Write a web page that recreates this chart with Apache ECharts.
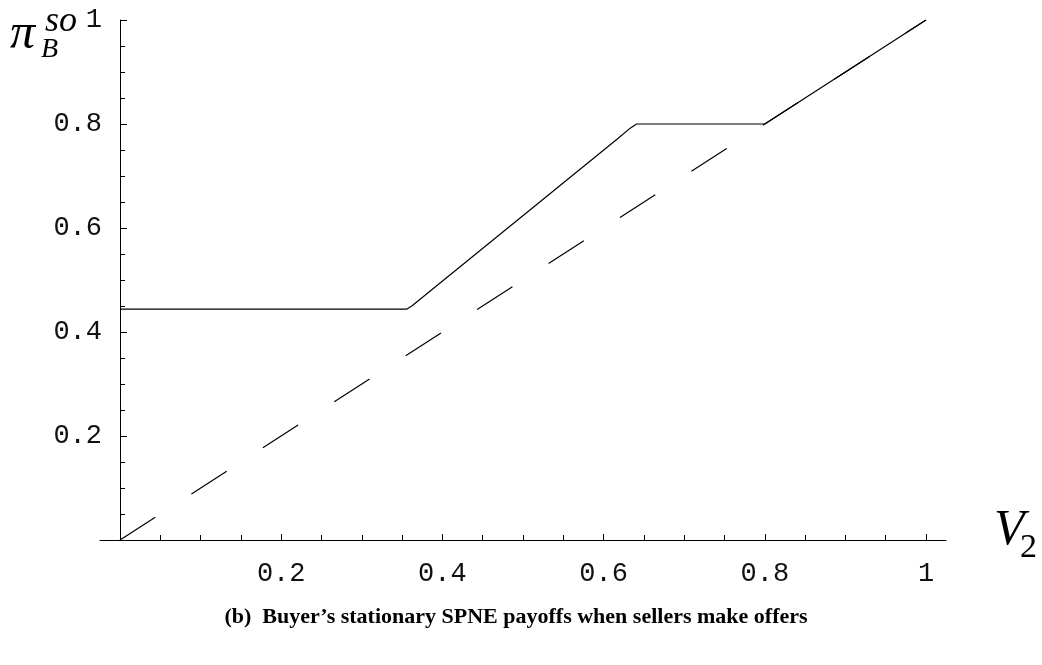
<!DOCTYPE html>
<html>
<head>
<meta charset="utf-8">
<script src="https://cdn.jsdelivr.net/npm/echarts@6/dist/echarts.min.js"></script>
<style>
html,body{margin:0;padding:0;background:#fff;}
#chart{width:1042px;height:665px;}
</style>
</head>
<body>
<div id="chart"></div>
<script>
// Data
const solidX = [0, 0.356, 0.362, 0.617, 0.633, 0.641, 0.8, 1];
const solidY = [0.444, 0.444, 0.45, 0.771, 0.792, 0.8, 0.8, 1];
const dashX = [0, 1];
const dashY = [0, 1];
const xTickLabels = ['0.2', '0.4', '0.6', '0.8', '1'];
const yTickLabels = ['0.2', '0.4', '0.6', '0.8', '1'];
const caption = '(b)  Buyer\u2019s stationary SPNE payoffs when sellers make offers';

const solidData = solidX.map((x, i) => [x, solidY[i]]);
const dashData = dashX.map((x, i) => [x, dashY[i]]);
const fmt = (labels) => (v) => {
  const s = (Math.round(v * 10) / 10).toString();
  return labels.indexOf(s) >= 0 ? s : '';
};
const labelFont = {fontFamily: '"Liberation Mono", "Courier New", monospace', fontSize: 27, color: '#111'};
const mathFont = '"Liberation Serif", "Times New Roman", serif';

const chart = echarts.init(document.getElementById('chart'));
chart.setOption({
  backgroundColor: '#fff',
  animation: false,
  grid: [
    {left: 120, right: 116, top: 20, bottom: 125},
    {left: 100, right: 96, top: 20, bottom: 125}
  ],
  xAxis: [
    {
      type: 'value', gridIndex: 0, min: 0, max: 1, interval: 0.2,
      axisLine: {show: false},
      axisTick: {show: true, inside: true, length: 6, lineStyle: {color: '#000', width: 1}},
      minorTick: {show: true, splitNumber: 4, length: 5, lineStyle: {color: '#000', width: 1}},
      splitLine: {show: false},
      axisLabel: Object.assign({margin: 20, showMinLabel: false, formatter: fmt(xTickLabels)}, labelFont)
    },
    {
      type: 'value', gridIndex: 1, min: 0, max: 1,
      axisLine: {show: true, onZero: false, lineStyle: {color: '#000', width: 1}},
      axisTick: {show: false}, axisLabel: {show: false}, splitLine: {show: false}
    }
  ],
  yAxis: [
    {
      type: 'value', gridIndex: 0, min: 0, max: 1, interval: 0.2,
      axisLine: {show: true, onZero: false, lineStyle: {color: '#000', width: 1}},
      axisTick: {show: true, inside: true, length: 7, lineStyle: {color: '#000', width: 1}},
      minorTick: {show: true, splitNumber: 4, length: 5, lineStyle: {color: '#000', width: 1}},
      splitLine: {show: false},
      axisLabel: Object.assign({margin: 18, showMinLabel: false, formatter: fmt(yTickLabels)}, labelFont)
    },
    {type: 'value', gridIndex: 1, min: 0, max: 1, show: false}
  ],
  series: [
    {
      type: 'line', xAxisIndex: 0, yAxisIndex: 0, data: dashData, symbol: 'none',
      lineStyle: {color: '#000', width: 1.2, type: [42, 43]}
    },
    {
      type: 'line', xAxisIndex: 0, yAxisIndex: 0, data: solidData, symbol: 'none',
      lineStyle: {color: '#000', width: 1.2}
    }
  ],
  graphic: [
    {type: 'text', style: {x: 10, y: 35, text: '\u03C0', font: 'italic 50px ' + mathFont, fill: '#000', verticalAlign: 'middle'}},
    {type: 'text', style: {x: 41, y: 50, text: 'B', font: 'italic 28px ' + mathFont, fill: '#000', verticalAlign: 'middle'}},
    {type: 'text', style: {x: 45, y: 22, text: 'so', font: 'italic 36px ' + mathFont, fill: '#000', verticalAlign: 'middle'}},
    {type: 'text', style: {x: 994, y: 531, text: 'V', font: 'italic 50px ' + mathFont, fill: '#000', verticalAlign: 'middle'}},
    {type: 'text', style: {x: 1020, y: 548, text: '2', font: '34px ' + mathFont, fill: '#000', verticalAlign: 'middle'}},
    {type: 'text', style: {x: 516, y: 617, text: caption, font: 'bold 22px ' + mathFont, fill: '#000', align: 'center', verticalAlign: 'middle'}}
  ]
});
</script>
</body>
</html>
